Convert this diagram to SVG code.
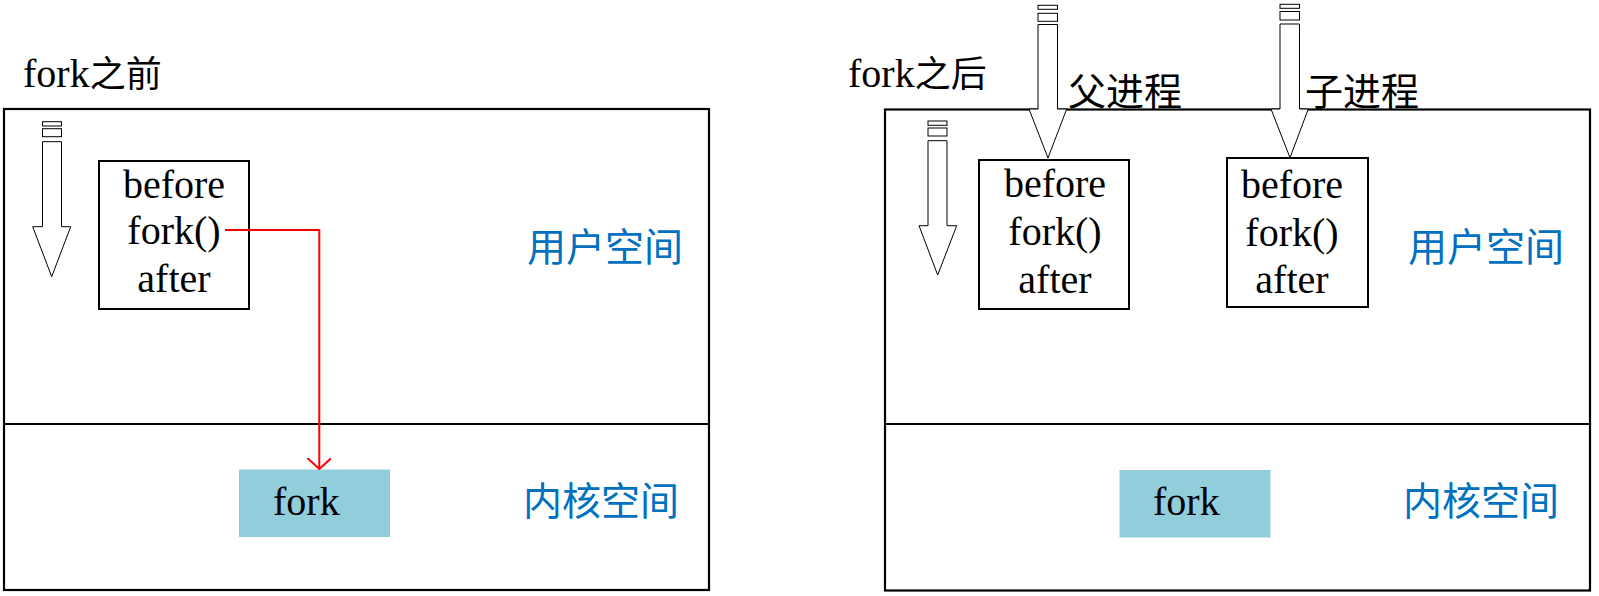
<svg xmlns="http://www.w3.org/2000/svg" width="1599" height="596" viewBox="0 0 1599 596">
  <defs>
    <style>
      .frame { fill: none; stroke: #000; stroke-width: 2.2; }
      .div { stroke: #000; stroke-width: 2; fill: none; }
      .box { fill: #fff; stroke: #000; stroke-width: 2; }
      .kbox { fill: #92CDDC; stroke: none; }
      .blk { fill: #fff; stroke: #000; stroke-width: 1; }
      .lat { font-family: "Liberation Serif", "Times New Roman", serif; font-size: 40px; fill: #000; }
      .cjk { font-family: "Noto Sans CJK SC", "Liberation Serif", sans-serif; fill: #000; }
      .blue { font-family: "Noto Sans CJK SC", sans-serif; font-size: 39px; fill: #0070C0; }
      .mid { text-anchor: middle; }
    </style>
    <marker id="open" viewBox="0 0 12 24" refX="11" refY="12" markerWidth="12" markerHeight="24" markerUnits="userSpaceOnUse" orient="auto">
      <path d="M0,0 L11,12 L0,24" fill="none" stroke="#f00" stroke-width="2"/>
    </marker>
  </defs>

  <!-- Left: before fork -->
  <g id="title-before">
    <text x="23" y="87" class="lat" font-size="40">fork<tspan class="cjk" font-size="36">之前</tspan></text>
  </g>
  <g id="frame-before">
    <rect class="frame" x="4" y="109" width="705" height="481"/>
    <line class="div" x1="4" y1="424" x2="709" y2="424"/>
  </g>
  <g id="user-label-before">
    <text class="blue" x="527" y="261">用户空间</text>
  </g>
  <g id="kernel-label-before">
    <text class="blue" x="523" y="515">内核空间</text>
  </g>
  <g id="exec-arrow-before">
    <rect class="blk" x="42.5" y="121.7" width="19" height="4.3"/>
    <rect class="blk" x="42.5" y="128.7" width="19" height="8"/>
    <path class="blk" d="M42.5,141.7 L61.5,141.7 L61.5,226.7 L70.7,226.7 L51.7,276.7 L32.7,226.7 L42.5,226.7 Z"/>
  </g>
  <g id="code-before">
    <rect class="box" x="99" y="161" width="150" height="148"/>
    <text class="lat mid" x="174" y="197.5">before</text>
    <text class="lat mid" x="174" y="244">fork()</text>
    <text class="lat mid" x="174" y="291.5">after</text>
  </g>
  <g id="kfork-before">
    <rect class="kbox" x="239" y="469.5" width="151" height="67.5"/>
    <text class="lat" x="273" y="515">fork</text>
  </g>

  <!-- Right: after fork -->
  <g id="title-after">
    <text x="848" y="87" class="lat" font-size="40">fork<tspan class="cjk" font-size="36">之后</tspan></text>
  </g>
  <g id="frame-after">
    <rect class="frame" x="885" y="109.5" width="705" height="481"/>
    <line class="div" x1="885" y1="424" x2="1590" y2="424"/>
  </g>
  <g id="user-label-after">
    <text class="blue" x="1408" y="261">用户空间</text>
  </g>
  <g id="kernel-label-after">
    <text class="blue" x="1403" y="515">内核空间</text>
  </g>
  <g id="exec-arrow-after">
    <rect class="blk" x="928" y="121" width="19" height="4.3"/>
    <rect class="blk" x="928" y="128" width="19" height="8"/>
    <path class="blk" d="M928,140.7 L947,140.7 L947,225.7 L956.7,225.7 L937.7,275 L919,225.7 L928,225.7 Z"/>
  </g>
  <g id="parent-code">
    <rect class="box" x="979" y="160" width="150" height="149"/>
    <text class="lat mid" x="1055" y="196.5">before</text>
    <text class="lat mid" x="1055" y="244.5">fork()</text>
    <text class="lat mid" x="1055" y="292.5">after</text>
  </g>
  <g id="child-code">
    <rect class="box" x="1227" y="158" width="141" height="149"/>
    <text class="lat mid" x="1292" y="197.5">before</text>
    <text class="lat mid" x="1292" y="245.5">fork()</text>
    <text class="lat mid" x="1292" y="292.5">after</text>
  </g>
  <g id="parent-arrow">
    <rect class="blk" x="1038" y="5.3" width="19.5" height="4"/>
    <rect class="blk" x="1038" y="13.3" width="19.5" height="8"/>
    <path class="blk" d="M1038,24.5 L1057.5,24.5 L1057.5,109 L1066.7,109 L1048,158 L1029,109 L1038,109 Z"/>
    <text class="cjk" font-size="38" x="1068" y="105">父进程</text>
  </g>
  <g id="child-arrow">
    <rect class="blk" x="1280" y="4.3" width="19.5" height="4"/>
    <rect class="blk" x="1280" y="11.5" width="19.5" height="8.5"/>
    <path class="blk" d="M1280,24 L1299.5,24 L1299.5,109 L1308.3,109 L1290,157.7 L1271,109 L1280,109 Z"/>
    <text class="cjk" font-size="38" x="1305" y="105">子进程</text>
  </g>
  <g id="kfork-after">
    <rect class="kbox" x="1119.5" y="470" width="151" height="67.5"/>
    <text class="lat" x="1153" y="515">fork</text>
  </g>

  <g id="connectors">
    <polyline points="225,230 319.3,230 319.3,469" fill="none" stroke="#f00" stroke-width="2" marker-end="url(#open)"/>
  </g>
</svg>
